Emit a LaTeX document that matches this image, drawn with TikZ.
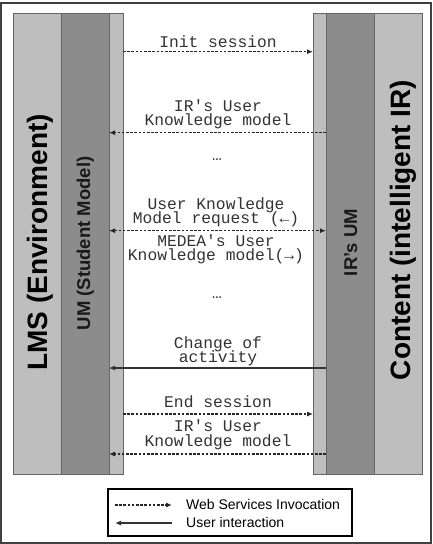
\documentclass[tikz,border=0pt]{standalone}
\usepackage{fontspec}
\setmainfont{Liberation Sans}
\newfontfamily\monofont{Liberation Mono}
\usetikzlibrary{arrows.meta}
\definecolor{lightp}{HTML}{BEBEBE}
\definecolor{darkp}{HTML}{8C8C8C}
\definecolor{edgep}{HTML}{666666}
\definecolor{txt}{HTML}{333333}
\begin{document}
\begin{tikzpicture}[x=1pt,y=-1pt,
  strip/.style={fill=#1,draw=edgep,line width=0.8pt},
  msg/.style={font=\monofont\fontsize{16.3}{14.5}\selectfont,text=txt,inner sep=0pt,anchor=base,text height=10.5pt,text depth=3pt},
  ws/.style={line width=1.1pt,dash pattern=on 2.6pt off 1.6pt,draw=black!85,-{Latex[length=6pt,width=5pt]}},
  wsboth/.style={line width=1.1pt,dash pattern=on 2.6pt off 1.6pt,draw=black!85,{Latex[length=6pt,width=5pt]}-{Latex[length=6pt,width=5pt]}},
  ui/.style={line width=1.1pt,draw=black!80,-{Latex[length=6pt,width=5pt]}},
  biglab/.style={rotate=90,anchor=base,inner sep=0pt,font=\bfseries\fontsize{28}{28}\selectfont},
  midlab/.style={rotate=90,anchor=base,inner sep=0pt,text=black!90,font=\bfseries\fontsize{18.5}{18.5}\selectfont},
  legtext/.style={anchor=base west,inner sep=0pt,font=\fontsize{14}{14}\selectfont},
]
\useasboundingbox (0,0) rectangle (432,544);
\draw[line width=1.6pt,black!75] (1,3) rectangle (431,543);

% left panel
\draw[strip=lightp] (13,13.5) rectangle (61,474);
\draw[strip=darkp] (61,13.5) rectangle (109,474);
\draw[strip=lightp] (109,13.5) rectangle (123,474);
% right panel
\draw[strip=lightp] (313,13.5) rectangle (326,474);
\draw[strip=darkp] (326,13.5) rectangle (374,474);
\draw[strip=lightp] (374,13.5) rectangle (422,474);

\node[biglab] (lms) at (47,242.5) {LMS (Environment)};
\node[midlab] (um) at (90,243.5) {UM (Student Model)};
\node[midlab] (irum) at (357,242.5) {IR's UM};
\node[biglab] (content) at (410,230) {Content (intelligent IR)};

% connector end points
\coordinate (L1) at (123,51.7);  \coordinate (R1) at (313,51.7);
\coordinate (L2) at (109,132.7); \coordinate (R2) at (326,132.7);
\coordinate (L3) at (109,230.7); \coordinate (R3) at (326,230.7);
\coordinate (L4) at (109,368);   \coordinate (R4) at (326,368);
\coordinate (L5) at (123,414);   \coordinate (R5) at (313,414);
\coordinate (L6) at (109,454);   \coordinate (R6) at (326,454);

\draw[ws] (L1) -- (R1);
\draw[ws] (R2) -- (L2);
\draw[wsboth] (L3) -- (R3);
\draw[ui] (R4) -- (L4);
\draw[ws] (L5) -- (R5);
\draw[ws] (R6) -- (L6);

\node[msg] (m1) at (218,47.3) {Init session};
\node[msg] (m2a) at (218,111) {IR's User};
\node[msg] (m2b) at (218,125) {Knowledge model};
\node[msg] (d1) at (217,160) {…};
\node[msg] (m3a) at (216,209.5) {User Knowledge};
\node[msg] (m3b) at (216,223.5) {Model request (←)};
\node[msg] (m3c) at (216,246) {MEDEA's User};
\node[msg] (m3d) at (216,260.5) {Knowledge model(→)};
\node[msg] (d2) at (217,298) {…};
\node[msg] (m4a) at (218,348.3) {Change of};
\node[msg] (m4b) at (218,362.8) {activity};
\node[msg] (m5) at (218,407.3) {End session};
\node[msg] (m6a) at (218,431.7) {IR's User};
\node[msg] (m6b) at (218,446.5) {Knowledge model};

% legend
\node[draw=black,line width=1.5pt,minimum width=244pt,minimum height=47pt,inner sep=0pt,anchor=north west] (legend) at (107,488) {};
\coordinate (LgA) at (115,505);  \coordinate (LgB) at (172,505);
\coordinate (LgC) at (172,523);  \coordinate (LgD) at (115,523);
\draw[ws] (LgA) -- (LgB);
\draw[ui] (LgC) -- (LgD);
\node[legtext] (lg1) at (186,509) {Web Services Invocation};
\node[legtext] (lg2) at (186,527) {User interaction};
\end{tikzpicture}
\end{document}
